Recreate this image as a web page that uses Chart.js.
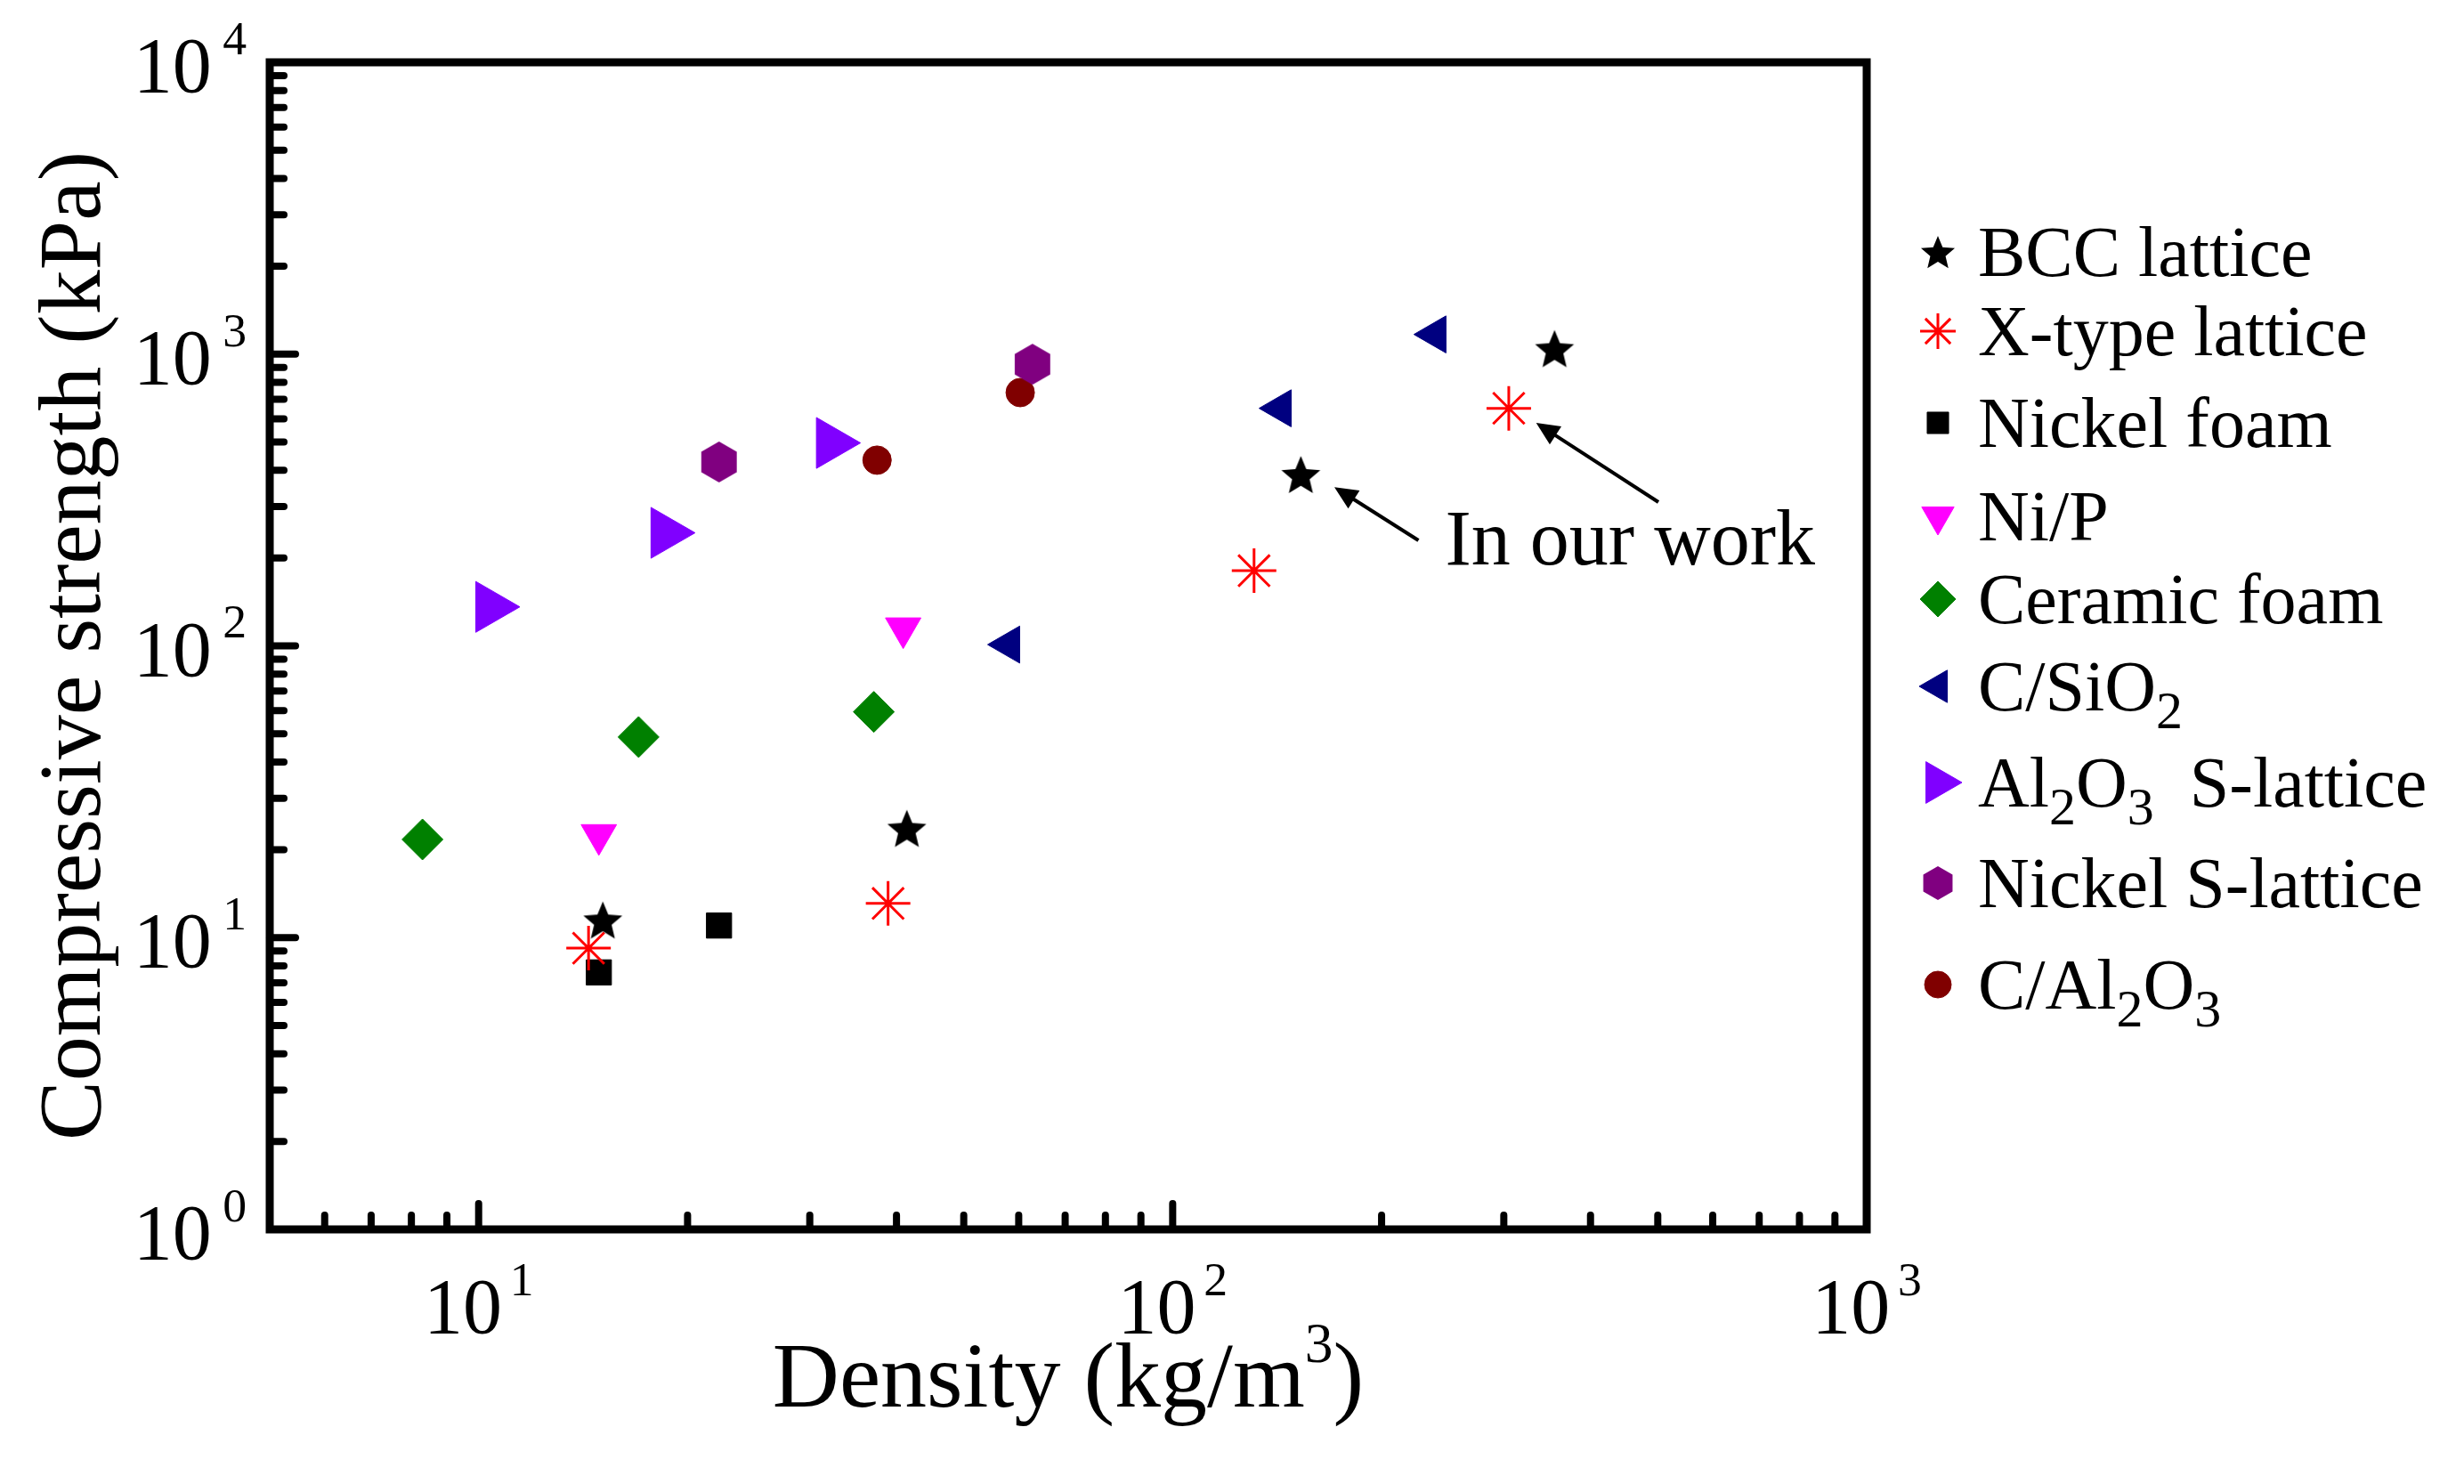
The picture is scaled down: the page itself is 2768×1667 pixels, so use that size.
<!DOCTYPE html>
<html>
<head>
<meta charset="utf-8">
<script src="https://cdn.jsdelivr.net/npm/chart.js@4.4.1/dist/chart.umd.min.js"></script>
<style>
  html, body { margin: 0; padding: 0; background: #fff; }
  #wrap { width: 2768px; height: 1667px; position: relative; }
</style>
</head>
<body>
<div id="wrap"><canvas id="myChart"></canvas></div>
<script>
// values: density (kg/m3) and compressive strength (kPa)
const bccX = [15.1, 41.4, 153, 355];
const bccY = [11.5, 23.7, 387, 1045];
const xTypeX = [14.4, 38.9, 131, 305];
const xTypeY = [9.2, 13.1, 181, 652];
const niFoamX = [14.9, 22.2];
const niFoamY = [7.6, 11.0];
const niPX = [14.9, 40.9];
const niPY = [22.5, 115];
const ceramicX = [8.3, 17.0, 37.1];
const ceramicY = [21.7, 48.7, 59.4];
const cSiO2X = [58.1, 143, 239];
const cSiO2Y = [101, 652, 1168];
const al2o3X = [10.4, 18.6, 32.2];
const al2o3Y = [136, 244, 496];
const niSX = [22.2, 62.8];
const niSY = [427, 923];
const cAl2o3X = [37.5, 60.3];
const cAl2o3Y = [433, 738];

const xTickValues = [10, 100, 1000];
const xTickLabels = ['10^1', '10^2', '10^3'];
const yTickValues = [1, 10, 100, 1000, 10000];
const yTickLabels = ['10^0', '10^1', '10^2', '10^3', '10^4'];

// "In our work" note, anchored in data coordinates
const noteText = 'In our work';
const noteAt = [247, 190];
const noteArrows = [
    [[226, 230], [171, 350]],
    [[501, 311], [334, 581]],
];

const FONT = "'Liberation Serif', 'Times New Roman', Times, serif";

function makeStar(R, color) {
    const s = Math.ceil(R * 2 + 4);
    const c = document.createElement('canvas');
    c.width = c.height = s;
    const g = c.getContext('2d');
    g.fillStyle = color;
    g.beginPath();
    for (let i = 0; i < 10; i++) {
        const rr = i % 2 ? R * 0.45 : R;
        const a = -Math.PI / 2 + i * Math.PI / 5;
        g.lineTo(s / 2 + rr * Math.cos(a), s / 2 + rr * Math.sin(a) + R * 0.1);
    }
    g.closePath();
    g.fill();
    return c;
}

function makeHex(R, color) {
    const s = Math.ceil(R * 2 + 4);
    const c = document.createElement('canvas');
    c.width = c.height = s;
    const g = c.getContext('2d');
    g.fillStyle = color;
    g.beginPath();
    for (let i = 0; i < 6; i++) {
        const a = -Math.PI / 2 + i * Math.PI / 3;
        g.lineTo(s / 2 + R * Math.cos(a), s / 2 + R * Math.sin(a));
    }
    g.closePath();
    g.fill();
    return c;
}

const SERIES = [
    { name: 'BCC lattice', xs: bccX, ys: bccY, color: '#000000', style: makeStar(23, '#000'), legendStyle: makeStar(20, '#000'), r: 23, lr: 20 },
    { name: 'X-type lattice', xs: xTypeX, ys: xTypeY, color: '#ff0000', style: 'star', r: 25, lr: 20, lw: 3 },
    { name: 'Nickel foam', xs: niFoamX, ys: niFoamY, color: '#000000', style: 'rect', r: 20, lr: 17 },
    { name: 'Ni/P', xs: niPX, ys: niPY, color: '#ff00ff', style: 'triangle', rot: 180, r: 23, lr: 21 },
    { name: 'Ceramic foam', xs: ceramicX, ys: ceramicY, color: '#008000', style: 'rectRot', r: 23, lr: 20 },
    { name: 'C/SiO_2', xs: cSiO2X, ys: cSiO2Y, color: '#000080', style: 'triangle', rot: 270, r: 24, lr: 21 },
    { name: 'Al_2O_3  S-lattice', xs: al2o3X, ys: al2o3Y, color: '#8000ff', style: 'triangle', rot: 90, r: 33, lr: 27 },
    { name: 'Nickel S-lattice', xs: niSX, ys: niSY, color: '#800080', style: makeHex(23, '#800080'), legendStyle: makeHex(19, '#800080'), r: 23, lr: 19 },
    { name: 'C/Al_2O_3', xs: cAl2o3X, ys: cAl2o3Y, color: '#800000', style: 'circle', r: 16, lr: 15 },
];

const LEGEND_ROW_Y = [283, 372, 475, 580, 673, 771, 879, 992, 1106];
const LEGEND_MARK_X = 2177;
const LEGEND_TEXT_X = 2222;

// text with _x subscripts and ^x superscripts
function parseRich(str) {
    const parts = [];
    for (let i = 0; i < str.length; i++) {
        const ch = str[i];
        if ((ch === '_' || ch === '^') && i + 1 < str.length) {
            parts.push({ t: str[i + 1], k: ch });
            i++;
        } else if (parts.length && parts[parts.length - 1].k === 'n') {
            parts[parts.length - 1].t += ch;
        } else {
            parts.push({ t: ch, k: 'n' });
        }
    }
    return parts;
}

function drawRich(ctx, str, x, y, size, align, supGap = 0.1) {
    const parts = parseRich(str);
    let w = 0;
    parts.forEach(p => {
        p.fs = p.k === 'n' ? size : p.k === '^' ? size * 0.61 : size * 0.75;
        p.dy = p.k === 'n' ? 0 : p.k === '^' ? -size * 0.48 : size * 0.25;
        p.gap = p.k === '^' ? size * supGap : 0;
        ctx.font = p.fs + 'px ' + FONT;
        p.w = ctx.measureText(p.t).width;
        w += p.w + p.gap;
    });
    let cx = align === 'center' ? x - w / 2 : align === 'right' ? x - w : x;
    ctx.textAlign = 'left';
    ctx.textBaseline = 'alphabetic';
    parts.forEach(p => {
        cx += p.gap;
        ctx.font = p.fs + 'px ' + FONT;
        ctx.fillText(p.t, cx, y + p.dy);
        cx += p.w;
    });
}

function drawArrow(ctx, x1, y1, x2, y2) {
    const a = Math.atan2(y2 - y1, x2 - x1);
    const len = 26, half = 12;
    ctx.beginPath();
    ctx.moveTo(x1, y1);
    ctx.lineTo(x2 - Math.cos(a) * len * 0.8, y2 - Math.sin(a) * len * 0.8);
    ctx.stroke();
    ctx.beginPath();
    ctx.moveTo(x2, y2);
    ctx.lineTo(x2 - Math.cos(a) * len - Math.sin(a) * half, y2 - Math.sin(a) * len + Math.cos(a) * half);
    ctx.lineTo(x2 - Math.cos(a) * len + Math.sin(a) * half, y2 - Math.sin(a) * len - Math.cos(a) * half);
    ctx.closePath();
    ctx.fill();
}

const framePlugin = {
    id: 'frame',
    afterDatasetsDraw(chart) {
        const { ctx, chartArea: a, scales: { x, y } } = chart;
        ctx.save();
        ctx.strokeStyle = '#000';
        ctx.fillStyle = '#000';

        ctx.lineWidth = 9;
        ctx.strokeRect(a.left, a.top, a.right - a.left, a.bottom - a.top);

        // inward ticks
        ctx.lineWidth = 8;
        ctx.lineCap = 'round';
        for (let e = 0; e <= 3; e++) {
            for (let m = 1; m <= 9; m++) {
                const v = m * Math.pow(10, e);
                if (v <= x.min * 1.001 || v >= x.max * 0.999) continue;
                const px = x.getPixelForValue(v);
                const len = m === 1 ? 29 : 16;
                ctx.beginPath();
                ctx.moveTo(px, a.bottom);
                ctx.lineTo(px, a.bottom - len);
                ctx.stroke();
            }
        }
        for (let e = 0; e <= 4; e++) {
            for (let m = 1; m <= 9; m++) {
                const v = m * Math.pow(10, e);
                if (v <= y.min * 1.001 || v >= y.max * 0.999) continue;
                const py = y.getPixelForValue(v);
                const len = m === 1 ? 29 : 16;
                ctx.beginPath();
                ctx.moveTo(a.left, py);
                ctx.lineTo(a.left + len, py);
                ctx.stroke();
            }
        }

        // tick labels
        xTickValues.forEach((v, i) => {
            drawRich(ctx, xTickLabels[i], x.getPixelForValue(v), a.bottom + 116, 88, 'center');
        });
        yTickValues.forEach((v, i) => {
            drawRich(ctx, yTickLabels[i], a.left - 26, y.getPixelForValue(v) + 33, 88, 'right', 0.14);
        });

        // axis titles
        drawRich(ctx, 'Density (kg/m^3)', (a.left + a.right) / 2, 1580, 104, 'center', 0);
        ctx.save();
        ctx.translate(112, (a.top + a.bottom) / 2);
        ctx.rotate(-Math.PI / 2);
        drawRich(ctx, 'Compressive strength (kPa)', 0, 0, 100, 'center');
        ctx.restore();

        // note
        ctx.lineWidth = 4;
        ctx.lineCap = 'butt';
        noteArrows.forEach(([t, h]) => {
            drawArrow(ctx, x.getPixelForValue(t[0]), y.getPixelForValue(t[1]),
                x.getPixelForValue(h[0]), y.getPixelForValue(h[1]));
        });
        drawRich(ctx, noteText, x.getPixelForValue(noteAt[0]), y.getPixelForValue(noteAt[1]), 88, 'left');

        // legend
        const helpers = Chart.helpers;
        SERIES.forEach((s, i) => {
            const ly = LEGEND_ROW_Y[i];
            ctx.fillStyle = s.color;
            ctx.strokeStyle = s.color;
            ctx.lineWidth = s.lw ? 3 : 1;
            helpers.drawPoint(ctx, {
                pointStyle: s.legendStyle || s.style,
                rotation: s.rot || 0,
                radius: s.lr,
                borderWidth: s.lw ? 3 : 1,
            }, LEGEND_MARK_X, ly);
            ctx.fillStyle = '#000';
            drawRich(ctx, s.name, LEGEND_TEXT_X, ly + 27, 80, 'left');
        });
        ctx.restore();
    }
};

new Chart(document.getElementById('myChart'), {
    type: 'scatter',
    data: {
        datasets: SERIES.map(s => ({
            label: s.name,
            data: s.xs.map((v, i) => ({ x: v, y: s.ys[i] })),
            pointStyle: s.style,
            pointRotation: s.rot || 0,
            pointRadius: s.r,
            pointHoverRadius: s.r,
            pointBackgroundColor: s.color,
            pointBorderColor: s.color,
            pointBorderWidth: s.lw || 1,
            showLine: false,
        }))
    },
    options: {
        responsive: true,
        maintainAspectRatio: false,
        devicePixelRatio: 1,
        animation: false,
        layout: { padding: { left: 303, right: 671, top: 70, bottom: 286 } },
        plugins: {
            legend: { display: false },
            tooltip: { enabled: false },
        },
        scales: {
            x: { type: 'logarithmic', min: 5, max: 1000, display: false },
            y: { type: 'logarithmic', min: 1, max: 10000, display: false },
        }
    },
    plugins: [framePlugin]
});
</script>
</body>
</html>
